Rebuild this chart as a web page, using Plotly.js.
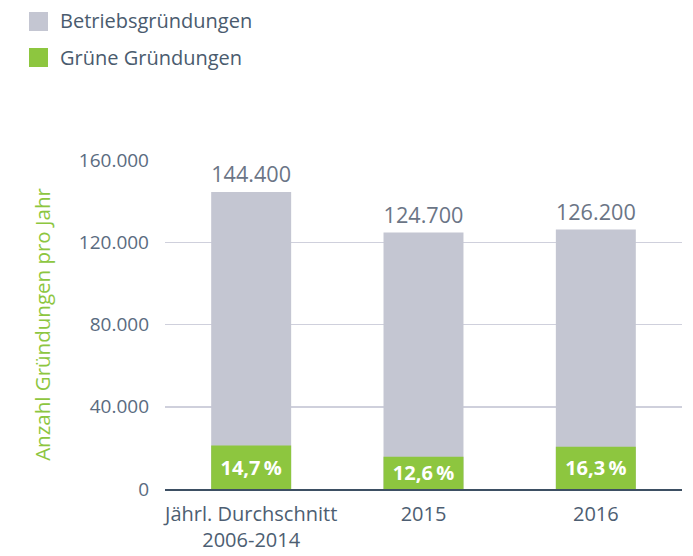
<!DOCTYPE html>
<html>
<head>
<meta charset="utf-8">
<script src="https://cdn.plot.ly/plotly-3.0.1.min.js"></script>
<style>html,body{margin:0;padding:0;background:#fff}#chart{width:693px;height:556px}</style>
</head>
<body>
<div id="chart"></div>
<script>
var categories = ["Jährl. Durchschnitt<br>2006-2014", "2015", "2016"];
var totalFoundings = [144400, 124700, 126200];
var totalLabels = ["144.400", "124.700", "126.200"];
var greenFoundings = [21200, 15700, 20600];
var greenLabels = ["14,7\u2009%", "12,6\u2009%", "16,3\u2009%"];
var yTickVals = [0, 40000, 80000, 120000, 160000];
var yTickText = ["0", "40.000", "80.000", "120.000", "160.000"];
var legendNames = ["Betriebsgründungen", "Grüne Gründungen"];

var FONT = "Open Sans, sans-serif";
var GRAY = "#c4c6d2";
var GREEN = "#8dc63f";

var traces = [
  {
    type: "bar", x: categories, y: totalFoundings, name: legendNames[0],
    marker: {color: GRAY}, width: 0.464,
    text: totalLabels, textposition: "outside", cliponaxis: false,
    textfont: {family: FONT, size: 23, color: "#6b7586"},
    hoverinfo: "skip", showlegend: false
  },
  {
    type: "bar", x: categories, y: greenFoundings, name: legendNames[1],
    marker: {color: GREEN}, width: 0.464,
    text: greenLabels, textposition: "inside", insidetextanchor: "middle",
    textfont: {family: FONT, size: 20, color: "#ffffff", weight: "bold"},
    constraintext: "none",
    hoverinfo: "skip", showlegend: false
  }
];

var plotW = 693 - 165 - 11, plotH = 556 - 160 - 67;
function px(x){ return (x - 165) / plotW; }
function py(y){ return (556 - 67 - y) / plotH; }

var layout = {
  width: 693, height: 556,
  margin: {l: 165, r: 11, t: 160, b: 67},
  paper_bgcolor: "#fff", plot_bgcolor: "#fff",
  barmode: "overlay",
  showlegend: false,
  font: {family: FONT, color: "#4d5e72"},
  xaxis: {
    type: "category",
    showgrid: false, zeroline: false,
    showline: true, linecolor: "#3d4f63", linewidth: 1.5,
    ticks: "", tickfont: {family: FONT, size: 20, color: "#4d5e72"},
    ticklabelstandoff: 6
  },
  yaxis: {
    range: [0, 160000], tickvals: yTickVals, ticktext: yTickText,
    showgrid: true, gridcolor: "#cfd0dc", gridwidth: 1.5,
    zeroline: false, showline: false, ticks: "",
    tickfont: {family: FONT, size: 19, color: "#5a6b80"},
    ticklabelstandoff: 15,
    title: {text: "Anzahl Gründungen pro Jahr", font: {family: FONT, size: 20.5, color: GREEN}, standoff: 22}
  },
  shapes: [
    {type: "rect", xref: "paper", yref: "paper", x0: px(29), x1: px(48), y0: py(12), y1: py(31), fillcolor: GRAY, line: {width: 0}},
    {type: "rect", xref: "paper", yref: "paper", x0: px(29), x1: px(48), y0: py(48), y1: py(67), fillcolor: GREEN, line: {width: 0}}
  ],
  annotations: [
    {xref: "paper", yref: "paper", x: px(58), y: py(21), xanchor: "left", yanchor: "middle", showarrow: false,
     text: legendNames[0], font: {family: FONT, size: 20, color: "#4a5b6e"}},
    {xref: "paper", yref: "paper", x: px(58), y: py(57), xanchor: "left", yanchor: "middle", showarrow: false,
     text: legendNames[1], font: {family: FONT, size: 20, color: "#4a5b6e"}}
  ]
};

Plotly.newPlot("chart", traces, layout, {displayModeBar: false, staticPlot: true});
</script>
</body>
</html>
